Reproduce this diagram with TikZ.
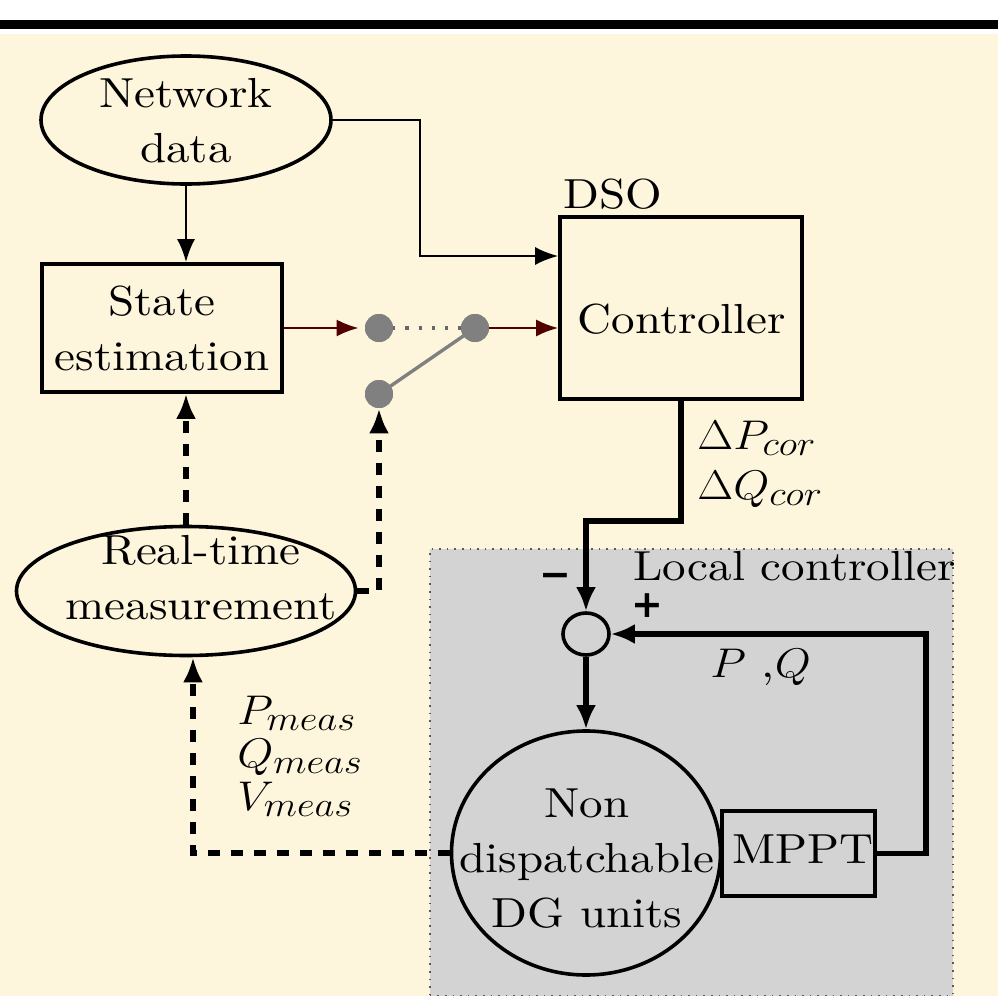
\documentclass[tikz,border=0pt]{standalone}
\usepackage{graphicx}
\usepackage{fontspec}
\setmainfont{lmroman10-regular.otf}[FakeStretch=1.12, BoldFont=lmroman10-bold.otf, ItalicFont=lmroman10-italic.otf]
\newfontfamily\djv{DejaVu Sans}
\DeclareMathSizes{21}{21}{16.5}{12}
\newcommand{\sxm}[1]{\scalebox{1.12}[1]{#1}}
\usetikzlibrary{arrows.meta,shapes.geometric}
\definecolor{cream}{RGB}{253,246,221}
\definecolor{boxgray}{RGB}{211,211,211}
\definecolor{darkred}{RGB}{80,0,0}
\definecolor{dotgray}{RGB}{128,128,128}
\definecolor{bordergray}{RGB}{90,90,90}
\begin{document}
\begin{tikzpicture}[x=0.5pt,y=-0.5pt,
  shapeb/.style={draw, line width=1.8pt, inner sep=0pt},
  txt/.style={font=\fontsize{21}{27.5}\selectfont, align=center, inner sep=0pt},
  thinarrow/.style={line width=1.2pt, -{Latex[length=11.5pt,width=9pt]}},
  redarrow/.style={draw=darkred, line width=1.2pt, -{Latex[length=11pt,width=8.5pt]}},
  thickarrow/.style={line width=2.8pt, -{Latex[length=12pt,width=10pt]}},
  dasharrow/.style={line width=2.6pt, dash pattern=on 6pt off 5.5pt, -{Latex[length=12.5pt,width=10pt]}},
  swdot/.style={circle, fill=dotgray, minimum size=14pt, inner sep=0pt},
  signtxt/.style={font=\fontsize{19}{22}\selectfont\djv\bfseries, inner sep=0pt}
]
\useasboundingbox (0,0) rectangle (998,996);
\fill[white] (0,0) rectangle (998,996);
\fill[black] (0,20) rectangle (998,29);
\fill[cream] (0,34) rectangle (998,996);

% local controller region
\node[draw=bordergray, fill=boxgray, line width=0.8pt, dash pattern=on 0.8pt off 3pt,
      minimum width=261.5pt, minimum height=223.5pt, inner sep=0pt, anchor=north west] (lcbox) at (429,548) {};
\node[txt, anchor=base west] (lclabel) at (633,580) {Local controller};

% shapes
\node[shapeb, ellipse, minimum width=145pt, minimum height=64pt] (nd) at (186,120) {};
\node[shapeb, rectangle, minimum width=120pt, minimum height=64pt] (se) at (162,328) {};
\node[shapeb, rectangle, minimum width=121pt, minimum height=91pt] (ctrl) at (681,308) {};
\node[shapeb, ellipse, minimum width=169.5pt, minimum height=64.5pt] (rt) at (186,591) {};
\node[shapeb, ellipse, minimum width=23pt, minimum height=21pt] (sum) at (586,634) {};
\node[shapeb, ellipse, minimum width=134.5pt, minimum height=122pt] (ndg) at (586,853) {};
\node[shapeb, rectangle, minimum width=76.5pt, minimum height=42.5pt] (mppt) at (798.5,853.5) {};

% texts
\node[txt] (ndt) at (186,121) {Network\\data};
\node[txt] (set) at (162,328) {State\\estimation};
\node[txt] (ctrlt) at (682,319.5) {Controller};
\node[txt, anchor=base west] (dso) at (563,208) {DSO};
\node[txt] (rtt) at (201,578) {Real-time\\measurement};
\node[txt] (ndgt) at (587,859) {Non\\dispatchable\\DG units};
\node[txt] (mpptt) at (803,849) {MPPT};
\node[txt, align=left, anchor=west, font=\fontsize{21}{25}\selectfont] (corr) at (697,464) {\sxm{$\Delta P_{cor}$}\\\sxm{$\Delta Q_{cor}$}};
\node[txt, align=left, anchor=west, font=\fontsize{21}{21.5}\selectfont] (meas) at (237,756) {\sxm{$P_{meas}$}\\\sxm{$Q_{meas}$}\\\sxm{$V_{meas}$}};
\node[txt, anchor=base west] (pq) at (710,677) {\sxm{$P$} ,\sxm{$Q$}};
\node[signtxt] (minus) at (555,580) {−};
\node[signtxt] (plus) at (647,606) {+};

% switch
\node[swdot] (d1) at (379,328) {};
\node[swdot] (d2) at (475,328) {};
\node[swdot] (d3) at (379,394) {};
\draw[dotgray, line width=1.7pt] (d3.center) -- (d2.center);
\draw[dotgray!80!black, line width=1.6pt, dash pattern=on 1.6pt off 5pt] (d1.center) -- (d2.center);
\node[swdot] at (d1) {};
\node[swdot] at (d2) {};
\node[swdot] at (d3) {};

% connectors
\coordinate (k1) at (420,256);
\coordinate (k3) at (586,521);
\coordinate (k5) at (926,634);
\coordinate (k6) at (193,853);
\draw[thinarrow] (nd.south) -- (nd.south |- se.north);
\draw[thinarrow] (nd.east) -| (k1) -- (k1 -| ctrl.west);
\draw[redarrow, shorten >=3pt] (se.east) -- (d1.west);
\draw[redarrow] (d2.east) -- (d2 -| ctrl.west);
\draw[dasharrow] (rt.north) -- (rt.north |- se.south);
\draw[dasharrow] (rt.east) -| (d3.south);
\draw[thickarrow] (ctrl.south) |- (k3) -- (sum.north);
\draw[thickarrow] (sum.south) -- (ndg.north);
\draw[thickarrow] (mppt.east) -| (k5) -- (sum.east);
\draw[dasharrow] (ndg.west) -- (k6) -- (k6 |- rt.south);
\end{tikzpicture}
\end{document}
